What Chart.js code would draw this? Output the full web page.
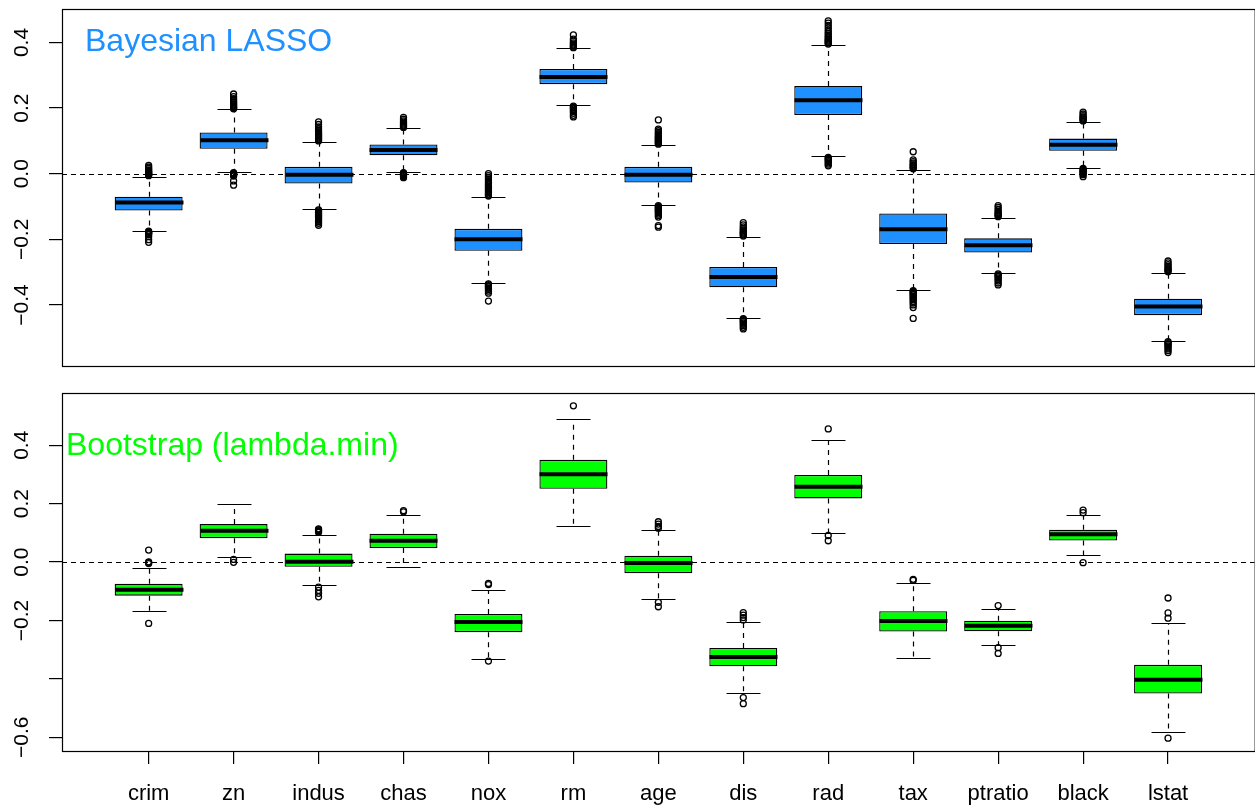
<!DOCTYPE html>
<html>
<head>
<meta charset="utf-8">
<script src="https://cdn.jsdelivr.net/npm/chart.js@4.4.1/dist/chart.umd.min.js"></script>
<style>
  html, body { margin: 0; padding: 0; background: #fff; overflow: hidden; }
  #wrap { position: relative; width: 1255px; height: 805px; overflow: hidden; }
  #c1 { position: absolute; left: 0; top: 0; }
  #c2 { position: absolute; left: 0; top: 380px; }
</style>
</head>
<body>
<div id="wrap">
  <canvas id="c1" width="1260" height="380"></canvas>
  <canvas id="c2" width="1260" height="425"></canvas>
</div>
<script>
// variables (Boston housing)
const names = ['crim', 'zn', 'indus', 'chas', 'nox', 'rm', 'age', 'dis', 'rad', 'tax', 'ptratio', 'black', 'lstat'];

// top panel: Bayesian LASSO posterior draws
const blQ1  = [-0.112, 0.076, -0.030, 0.056, -0.235, 0.273, -0.027, -0.346, 0.179, -0.214, -0.240, 0.070, -0.431];
const blQ3  = [-0.070, 0.126, 0.021, 0.089, -0.168, 0.319, 0.021, -0.284, 0.267, -0.121, -0.197, 0.107, -0.381];
const blMed = [-0.088, 0.102, -0.003, 0.072, -0.200, 0.295, -0.003, -0.315, 0.224, -0.169, -0.218, 0.088, -0.405];
const blLo  = [-0.174, 0.005, -0.108, 0.005, -0.333, 0.208, -0.095, -0.440, 0.053, -0.353, -0.303, 0.018, -0.510];
const blHi  = [-0.009, 0.196, 0.096, 0.139, -0.070, 0.382, 0.088, -0.193, 0.393, 0.012, -0.134, 0.158, -0.302];
const blOut = [
  [0.025, 0.02, 0.016, 0.012, 0.009, 0.006, 0.004, 0.002, 0.0, -0.002, -0.004, -0.006,
   -0.175, -0.177, -0.179, -0.181, -0.183, -0.186, -0.192, -0.201, -0.209],
  [0.198, 0.2, 0.202, 0.204, 0.207, 0.21, 0.213, 0.216, 0.22, 0.224, 0.229, 0.235, 0.243,
   0.003, 0.001, -0.001, -0.003, -0.005, -0.007, -0.022, -0.035],
  [0.1, 0.103, 0.106, 0.109, 0.112, 0.115, 0.118, 0.121, 0.124, 0.128, 0.132, 0.137, 0.143, 0.15, 0.158,
   -0.11, -0.113, -0.116, -0.119, -0.122, -0.125, -0.128, -0.131, -0.134, -0.138, -0.142, -0.146, -0.151, -0.157],
  [0.141, 0.143, 0.145, 0.148, 0.151, 0.154, 0.157, 0.161, 0.166, 0.172,
   0.003, 0.001, -0.001, -0.003, -0.006, -0.009, -0.012],
  [-0.068, -0.065, -0.062, -0.058, -0.054, -0.05, -0.046, -0.042, -0.038, -0.034, -0.03, -0.026, -0.021, -0.016, -0.011, -0.006, 0.0,
   -0.336, -0.339, -0.342, -0.345, -0.349, -0.353, -0.358, -0.364, -0.388],
  [0.384, 0.386, 0.389, 0.392, 0.395, 0.399, 0.404, 0.41, 0.423,
   0.206, 0.203, 0.2, 0.197, 0.193, 0.189, 0.184, 0.178, 0.173],
  [0.09, 0.093, 0.096, 0.099, 0.102, 0.105, 0.108, 0.111, 0.114, 0.118, 0.122, 0.126, 0.131, 0.136, 0.164,
   -0.097, -0.1, -0.103, -0.106, -0.109, -0.112, -0.115, -0.119, -0.123, -0.127, -0.132, -0.158, -0.163],
  [-0.19, -0.187, -0.184, -0.181, -0.178, -0.175, -0.171, -0.167, -0.162, -0.156, -0.149,
   -0.442, -0.445, -0.448, -0.451, -0.455, -0.459, -0.463, -0.468, -0.473],
  [0.395, 0.398, 0.401, 0.404, 0.407, 0.41, 0.414, 0.418, 0.422, 0.427, 0.432, 0.438, 0.445, 0.452, 0.459, 0.466,
   0.05, 0.047, 0.044, 0.041, 0.037, 0.033, 0.029, 0.024],
  [0.015, 0.018, 0.021, 0.024, 0.028, 0.032, 0.037, 0.042, 0.067,
   -0.356, -0.359, -0.362, -0.365, -0.368, -0.372, -0.376, -0.38, -0.384, -0.389, -0.394, -0.4, -0.408, -0.441],
  [-0.131, -0.128, -0.125, -0.122, -0.118, -0.114, -0.109, -0.103, -0.097,
   -0.305, -0.308, -0.311, -0.314, -0.318, -0.322, -0.327, -0.333, -0.339],
  [0.161, 0.164, 0.167, 0.17, 0.173, 0.177, 0.182, 0.188,
   0.016, 0.013, 0.01, 0.007, 0.004, 0.001, -0.003, -0.009],
  [-0.299, -0.296, -0.293, -0.29, -0.286, -0.282, -0.277, -0.272, -0.266,
   -0.512, -0.515, -0.518, -0.521, -0.525, -0.529, -0.534, -0.539, -0.545]
];

// bottom panel: bootstrap lasso coefficients (lambda.min)
const bsQ1  = [-0.115, 0.082, -0.016, 0.048, -0.240, 0.251, -0.038, -0.357, 0.218, -0.238, -0.237, 0.074, -0.450];
const bsQ3  = [-0.074, 0.130, 0.029, 0.097, -0.178, 0.350, 0.022, -0.294, 0.298, -0.168, -0.201, 0.111, -0.352];
const bsMed = [-0.095, 0.107, 0.001, 0.073, -0.205, 0.301, -0.003, -0.325, 0.258, -0.202, -0.218, 0.095, -0.403];
const bsLo  = [-0.166, 0.018, -0.077, -0.018, -0.331, 0.122, -0.125, -0.448, 0.099, -0.329, -0.283, 0.024, -0.583];
const bsHi  = [-0.021, 0.200, 0.091, 0.162, -0.094, 0.489, 0.110, -0.206, 0.418, -0.070, -0.161, 0.161, -0.209];
const bsOut = [
  [0.041, 0.001, -0.002, -0.005, -0.21],
  [0.009, -0.001],
  [0.114, 0.111, 0.108, 0.105, 0.102, -0.086, -0.097, -0.107, -0.119],
  [0.176, 0.172],
  [-0.073, -0.077, -0.339],
  [0.535],
  [0.138, 0.13, 0.122, 0.116, -0.138, -0.153],
  [-0.173, -0.182, -0.19, -0.198, -0.464, -0.485],
  [0.456, 0.091, 0.073],
  [-0.059, -0.063],
  [-0.149, -0.293, -0.313],
  [0.178, 0.169, -0.002],
  [-0.123, -0.174, -0.192, -0.603]
];

// axis ticks
const topTicks = [-0.4, -0.2, 0, 0.2, 0.4];
const topTickLabels = ['\u22120.4', '\u22120.2', '0.0', '0.2', '0.4'];
const botTicks = [-0.6, -0.4, -0.2, 0, 0.2, 0.4];
const botTickLabels = ['\u22120.6', '', '\u22120.2', '0.0', '0.2', '0.4'];

const FONT = "'Liberation Sans', Arial, Helvetica, sans-serif";

// whiskers, caps, medians, zero line, frame and panel label
const boxExtras = {
  id: 'boxExtras',
  afterDatasetsDraw(chart, args, opts) {
    const ctx = chart.ctx;
    const a = chart.chartArea;
    const x = chart.scales.x, y = chart.scales.y;
    const bars = chart.getDatasetMeta(0).data;
    ctx.save();
    ctx.beginPath();
    ctx.rect(a.left, a.top, a.right - a.left, a.bottom - a.top);
    ctx.clip();
    ctx.strokeStyle = '#000';
    opts.med.forEach((m, i) => {
      const cx = Math.round(x.getPixelForValue(i + 1)) + 0.5;
      const w = bars[i].width;
      const yq1 = y.getPixelForValue(opts.q1[i]);
      const yq3 = y.getPixelForValue(opts.q3[i]);
      const ylo = Math.round(y.getPixelForValue(opts.lo[i])) + 0.5;
      const yhi = Math.round(y.getPixelForValue(opts.hi[i])) + 0.5;
      // dashed whiskers
      ctx.lineWidth = 1.2;
      ctx.setLineDash([5, 5]);
      ctx.beginPath();
      ctx.moveTo(cx, yq3); ctx.lineTo(cx, yhi);
      ctx.moveTo(cx, yq1); ctx.lineTo(cx, ylo);
      ctx.stroke();
      // caps
      ctx.setLineDash([]);
      ctx.beginPath();
      ctx.moveTo(cx - w / 4, yhi); ctx.lineTo(cx + w / 4, yhi);
      ctx.moveTo(cx - w / 4, ylo); ctx.lineTo(cx + w / 4, ylo);
      ctx.stroke();
      // median
      ctx.lineWidth = 4;
      const ym = y.getPixelForValue(m);
      ctx.beginPath();
      ctx.moveTo(cx - w / 2, ym); ctx.lineTo(cx + w / 2, ym);
      ctx.stroke();
    });
    // zero reference line
    const y0 = Math.round(y.getPixelForValue(0)) + 0.5;
    ctx.lineWidth = 1.2;
    ctx.setLineDash([5, 4]);
    ctx.beginPath();
    ctx.moveTo(a.left, y0); ctx.lineTo(a.right, y0);
    ctx.stroke();
    ctx.setLineDash([]);
    ctx.restore();

    // frame
    ctx.save();
    ctx.strokeStyle = '#000';
    ctx.lineWidth = 1.2;
    ctx.strokeRect(a.left + 0.5, a.top + 0.5, a.right - a.left, a.bottom - a.top);
    // panel label
    ctx.fillStyle = opts.labelColor;
    ctx.font = '32px ' + FONT;
    ctx.textBaseline = 'alphabetic';
    ctx.textAlign = 'left';
    ctx.fillText(opts.label, a.left + opts.labelDx, a.top + opts.labelDy);
    ctx.restore();
  }
};

function makePanel(id, q1, q3, med, lo, hi, out, fill, yMin, yMax, ticks, tickLabels, showX, pad, extras) {
  const boxes = names.map((n, i) => ({ x: i + 1, y: [q1[i], q3[i]] }));
  const pts = [];
  out.forEach((arr, i) => arr.forEach(v => pts.push({ x: i + 1, y: v })));
  return new Chart(document.getElementById(id), {
    type: 'bar',
    data: {
      datasets: [
        {
          type: 'bar',
          data: boxes,
          backgroundColor: fill,
          borderColor: '#000',
          borderWidth: 1.3,
          borderSkipped: false,
          categoryPercentage: 1,
          barPercentage: 0.8
        },
        {
          type: 'scatter',
          data: pts,
          pointStyle: 'circle',
          pointRadius: 3,
          pointBorderWidth: 1.3,
          pointBorderColor: '#000',
          pointBackgroundColor: 'rgba(0,0,0,0)'
        }
      ]
    },
    options: {
      responsive: false,
      animation: false,
      events: [],
      layout: { padding: pad },
      plugins: {
        legend: { display: false },
        tooltip: { enabled: false },
        boxExtras: Object.assign({ q1: q1, q3: q3, med: med, lo: lo, hi: hi }, extras)
      },
      scales: {
        x: {
          type: 'linear',
          min: -0.02,
          max: 14.02,
          offset: false,
          display: showX,
          afterBuildTicks: s => { s.ticks = names.map((n, i) => ({ value: i + 1 })); },
          afterFit: s => { s.height = showX ? 54 : 0; s.paddingLeft = 0; s.paddingRight = 0; },
          border: { display: false },
          grid: { offset: false, drawOnChartArea: false, drawTicks: true, tickLength: 13, color: '#000', lineWidth: 1.2 },
          ticks: {
            autoSkip: false,
            maxRotation: 0,
            minRotation: 0,
            padding: 17,
            color: '#000',
            font: { family: FONT, size: 22 },
            callback: v => names[Math.round(v) - 1]
          }
        },
        y: {
          type: 'linear',
          min: yMin,
          max: yMax,
          afterBuildTicks: s => { s.ticks = ticks.map(v => ({ value: v })); },
          afterFit: s => { s.width = 62; s.paddingTop = 0; s.paddingBottom = 0; },
          border: { display: false },
          grid: { drawOnChartArea: false, drawTicks: true, tickLength: 13, color: '#000', lineWidth: 1.2 },
          ticks: {
            autoSkip: false,
            minRotation: 90,
            maxRotation: 90,
            crossAlign: 'center',
            padding: 6,
            color: '#000',
            font: { family: FONT, size: 21 },
            callback: (v, i) => tickLabels[i]
          }
        }
      }
    },
    plugins: [boxExtras]
  });
}

makePanel('c1', blQ1, blQ3, blMed, blLo, blHi, blOut, '#1E90FF', -0.586, 0.502,
  topTicks, topTickLabels, false, { top: 9, bottom: 14, left: 0, right: 1 },
  { label: 'Bayesian LASSO', labelColor: '#1E90FF', labelDx: 23, labelDy: 42 });

makePanel('c2', bsQ1, bsQ3, bsMed, bsLo, bsHi, bsOut, '#00FF00', -0.647, 0.579,
  botTicks, botTickLabels, true, { top: 13, bottom: 0, left: 0, right: 1 },
  { label: 'Bootstrap (lambda.min)', labelColor: '#00FF00', labelDx: 4, labelDy: 62 });
</script>
</body>
</html>
